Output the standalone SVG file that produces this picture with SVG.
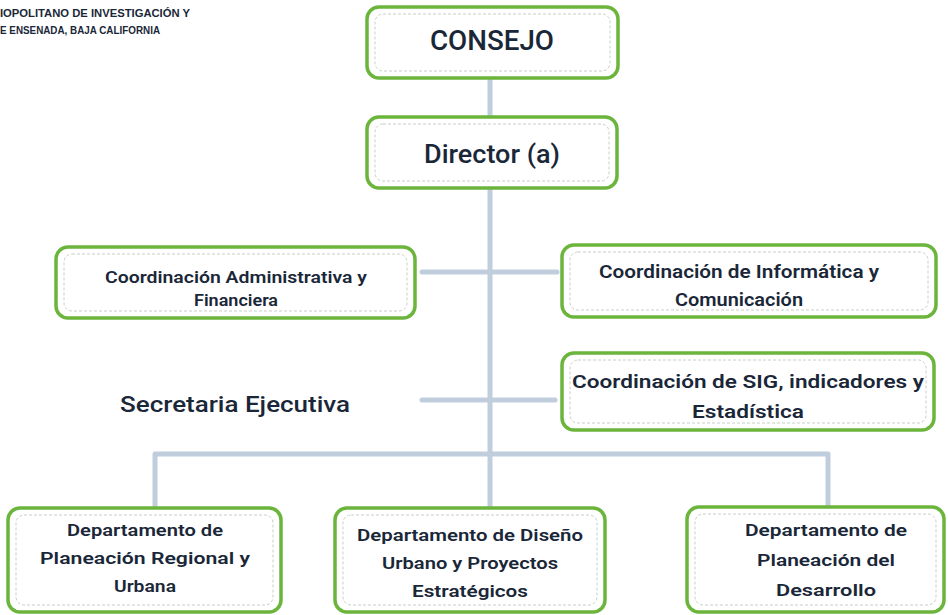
<svg xmlns="http://www.w3.org/2000/svg" width="948" height="615" viewBox="0 0 948 615">
<style>
.box{fill:#ffffff;stroke:#6cb53c;stroke-width:3.5}
.inner{fill:none;stroke:#c9d0c4;stroke-width:1;stroke-dasharray:3 2}
.conn{fill:none;stroke:#c0cddc;stroke-width:5;stroke-linejoin:round;stroke-linecap:round}
.t{font-family:Roboto,"Liberation Sans",sans-serif;font-weight:600;fill:#1a2738;text-anchor:middle}
.m{font-weight:500}
.hdr{font-family:"Liberation Sans",sans-serif;font-weight:700;fill:#1a2738;font-size:10px}
</style>
<rect width="948" height="615" fill="#ffffff"/>
<g id="header">
<text class="hdr" x="0" y="17" textLength="190" lengthAdjust="spacingAndGlyphs">IOPOLITANO DE INVESTIGACIÓN Y</text>
<text class="hdr" x="0" y="34" textLength="160" lengthAdjust="spacingAndGlyphs">E ENSENADA, BAJA CALIFORNIA</text>
</g>
<g id="connectors">
<path class="conn" d="M490 78 V117"/>
<path class="conn" d="M490 188 V454"/>
<path class="conn" d="M422 272 H557"/>
<path class="conn" d="M422 400 H555"/>
<path class="conn" d="M155 507 V454 H828 V507"/>
<path class="conn" d="M490 454 V507"/>
</g>
<g id="consejo">
<rect class="box" x="367" y="7" width="251" height="71" rx="12"/>
<rect class="inner" x="375" y="14" width="235" height="57" rx="8"/>
<text class="t m" x="492" y="50" font-size="27" textLength="124" lengthAdjust="spacingAndGlyphs">CONSEJO</text>
</g>
<g id="director">
<rect class="box" x="367" y="117" width="250" height="71" rx="12"/>
<rect class="inner" x="375" y="124" width="234" height="57" rx="8"/>
<text class="t m" x="492" y="163" font-size="25" textLength="136" lengthAdjust="spacingAndGlyphs">Director (a)</text>
</g>
<g id="coord-admin">
<rect class="box" x="56" y="247" width="359" height="71" rx="12"/>
<rect class="inner" x="64" y="254" width="343" height="57" rx="8"/>
<text class="t" x="236" y="283" font-size="17" textLength="262" lengthAdjust="spacingAndGlyphs">Coordinación Administrativa y</text>
<text class="t" x="236" y="306" font-size="17" textLength="84" lengthAdjust="spacingAndGlyphs">Financiera</text>
</g>
<g id="coord-info">
<rect class="box" x="562" y="245" width="374" height="72" rx="12"/>
<rect class="inner" x="570" y="252" width="358" height="58" rx="8"/>
<text class="t" x="739" y="278" font-size="19" textLength="280" lengthAdjust="spacingAndGlyphs">Coordinación de Informática y</text>
<text class="t" x="739" y="306" font-size="19" textLength="128" lengthAdjust="spacingAndGlyphs">Comunicación</text>
</g>
<g id="secretaria">
<text class="t m" x="235" y="412" font-size="22" textLength="230" lengthAdjust="spacingAndGlyphs">Secretaria Ejecutiva</text>
</g>
<g id="coord-sig">
<rect class="box" x="562" y="353" width="372" height="77" rx="12"/>
<rect class="inner" x="570" y="360" width="356" height="63" rx="8"/>
<text class="t" x="748" y="388" font-size="19" textLength="352" lengthAdjust="spacingAndGlyphs">Coordinación de SIG, indicadores y</text>
<text class="t" x="748" y="418" font-size="19" textLength="112" lengthAdjust="spacingAndGlyphs">Estadística</text>
</g>
<g id="dept-planeacion-regional">
<rect class="box" x="8" y="508" width="273" height="104" rx="12"/>
<rect class="inner" x="16" y="515" width="257" height="90" rx="8"/>
<text class="t" x="145" y="536" font-size="17" textLength="156" lengthAdjust="spacingAndGlyphs">Departamento de</text>
<text class="t" x="145" y="564" font-size="17" textLength="210" lengthAdjust="spacingAndGlyphs">Planeación Regional y</text>
<text class="t" x="145" y="592" font-size="17" textLength="62" lengthAdjust="spacingAndGlyphs">Urbana</text>
</g>
<g id="dept-diseno">
<rect class="box" x="335" y="508" width="270" height="104" rx="12"/>
<rect class="inner" x="343" y="515" width="254" height="90" rx="8"/>
<text class="t" x="470" y="541" font-size="17" textLength="226" lengthAdjust="spacingAndGlyphs">Departamento de Diseño</text>
<text class="t" x="470" y="569" font-size="17" textLength="176" lengthAdjust="spacingAndGlyphs">Urbano y Proyectos</text>
<text class="t" x="470" y="597" font-size="17" textLength="116" lengthAdjust="spacingAndGlyphs">Estratégicos</text>
</g>
<g id="dept-desarrollo">
<rect class="box" x="687" y="507" width="257" height="105" rx="12"/>
<rect class="inner" x="695" y="514" width="241" height="91" rx="8"/>
<text class="t" x="826" y="536" font-size="17" textLength="162" lengthAdjust="spacingAndGlyphs">Departamento de</text>
<text class="t" x="826" y="566" font-size="17" textLength="138" lengthAdjust="spacingAndGlyphs">Planeación del</text>
<text class="t" x="826" y="596" font-size="17" textLength="100" lengthAdjust="spacingAndGlyphs">Desarrollo</text>
</g>
</svg>
